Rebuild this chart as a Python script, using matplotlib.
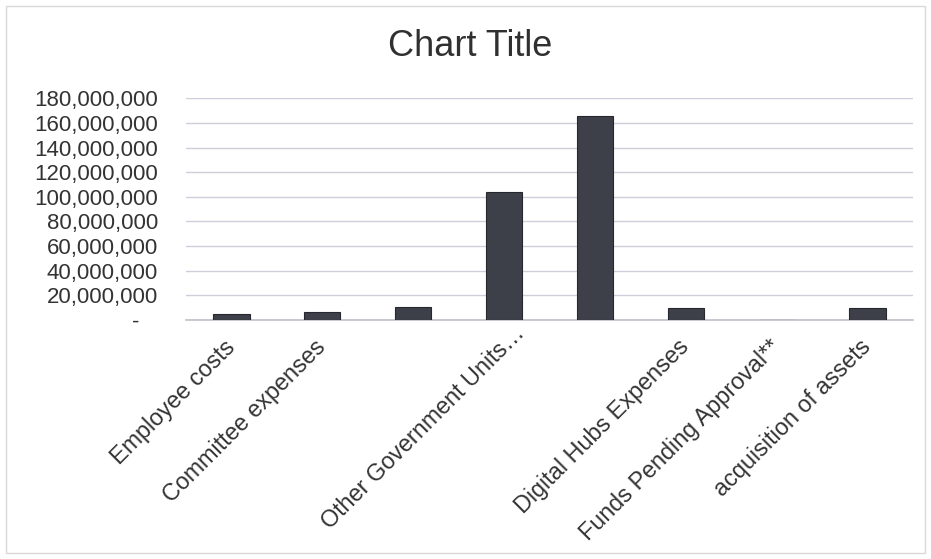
import matplotlib
matplotlib.use("Agg")
import matplotlib.pyplot as plt
from matplotlib.patches import Rectangle
from matplotlib.ticker import FuncFormatter
from matplotlib.transforms import ScaledTranslation

plt.rcParams['font.family'] = ['Liberation Sans', 'DejaVu Sans']

categories = [
    "Employee costs",
    "Committee expenses",
    "",
    "Other Government Units\u2026",
    "",
    "Digital Hubs Expenses",
    "Funds Pending Approval**",
    "acquisition of assets",
]
values = [4.6e6, 6.3e6, 10.3e6, 104.2e6, 165.6e6, 9.5e6, 0, 10.0e6]
y_ticks = [0, 20e6, 40e6, 60e6, 80e6, 100e6, 120e6, 140e6, 160e6, 180e6]

text_color = "#333333"
bar_color = "#3d4048"
grid_color = "#cfcfdc"

fig = plt.figure(figsize=(9.31, 5.59), dpi=100)
fig.patch.set_facecolor("white")

# light chart-area border
fig.patches.append(Rectangle((6 / 931, 6 / 559), 919 / 931, 547 / 559,
                             transform=fig.transFigure, fill=False,
                             edgecolor="#d9d9d9", linewidth=1.0))

ax = fig.add_axes([186 / 931, 239 / 559, 727 / 931, 221.7 / 559])
x = list(range(len(categories)))
ax.bar(x, values, width=0.4, color=bar_color, edgecolor="#26282e",
       linewidth=0.8, zorder=3)

ax.set_xlim(-0.5, len(categories) - 0.5)
ax.set_ylim(0, 180e6)
ax.set_yticks(y_ticks)


def fmt(v, pos):
    if v == 0:
        return "-   "
    return f"{int(v):,}"


ax.yaxis.set_major_formatter(FuncFormatter(fmt))
ax.grid(axis="y", color=grid_color, linewidth=1.0, zorder=0)
ax.set_axisbelow(True)
for s in ["top", "right", "left"]:
    ax.spines[s].set_visible(False)
ax.spines["bottom"].set_color("#c0c0c8")
ax.spines["bottom"].set_linewidth(1.2)

ax.tick_params(axis="y", length=0, pad=20, labelsize=16, labelcolor=text_color)
ax.tick_params(axis="x", length=0, pad=17, labelsize=16.8, labelcolor=text_color)
ax.set_xticks(x)
ax.set_xticklabels(categories, rotation=45, ha="right", va="center",
                   rotation_mode="anchor")

# the truncated label sits a little further along its own direction
shift = ScaledTranslation(17 / 100, 14 / 100, fig.dpi_scale_trans)
lbl = ax.get_xticklabels()[3]
lbl.set_transform(lbl.get_transform() + shift)

fig.text(0.505, 1 - 46 / 559, "Chart Title", ha="center", va="center",
         fontsize=26, color="#303030")

fig.savefig("out.png", dpi=100)
